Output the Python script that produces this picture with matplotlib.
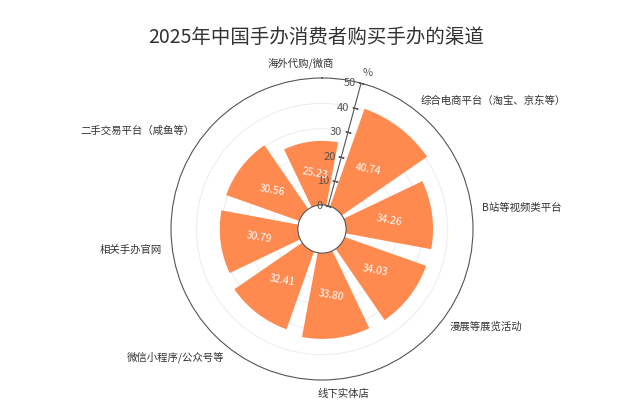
import numpy as np
import matplotlib
matplotlib.use('Agg')
import matplotlib.pyplot as plt

plt.rcParams['font.family'] = ['Noto Sans CJK SC', 'DejaVu Sans']

# 数据
title = '2025年中国手办消费者购买手办的渠道'
channels = ['综合电商平台（淘宝、京东等）', 'B站等视频类平台', '漫展等展览活动', '线下实体店',
            '微信小程序/公众号等', '相关手办官网', '二手交易平台（咸鱼等）', '海外代购/微商']
shares = [40.74, 34.26, 34.03, 33.80, 32.41, 30.79, 30.56, 25.23]
r_ticks = [0, 10, 20, 30, 40, 50]
unit = '%'

start_deg = 15
step = 360 / len(channels)
idx = np.arange(len(channels))
centers = np.deg2rad(start_deg + step * (idx + 0.5))
edges = np.deg2rad(start_deg + step * idx)

fig = plt.figure(figsize=(6.44, 4.0), dpi=100)
ax = fig.add_axes([0.2655, 0.05, 0.469, 0.755], projection='polar')
ax.set_theta_zero_location('N')
ax.set_theta_direction(-1)
ax.set_ylim(0, 50)
ax.set_rorigin(-9.5)

ax.bar(centers, shares, width=np.deg2rad(step) * 0.8, color='#FF8A50', zorder=2)

# 网格与轴线
ax.set_xticks(edges)
ax.set_xticklabels([])
ax.set_yticks(r_ticks[1:-1])
ax.set_yticklabels([])
ax.xaxis.grid(False)
ax.yaxis.grid(True, color='#eeeeee', lw=0.8)
ax.tick_params(axis='x', direction='in', length=3, color='#555555', width=0.8)
ax.spines['polar'].set_color('#555555')
ax.spines['polar'].set_linewidth(0.8)
ax.spines['inner'].set_color('#555555')
ax.spines['inner'].set_linewidth(0.8)

ax.plot([edges[0], edges[0]], [r_ticks[0], r_ticks[-1]], color='#555555', lw=0.8, zorder=3)
ax.plot([edges[0]] * len(r_ticks), r_ticks, ls='none', marker=(2, 2, 75),
        ms=4, mew=0.8, color='#555555', zorder=3, clip_on=False)
for r in r_ticks:
    ax.annotate(str(r), xy=(edges[0], r), xytext=(-4, 0), textcoords='offset points',
                ha='right', va='center', fontsize=8, color='#555555')
ax.annotate(unit, xy=(edges[0], r_ticks[-1]), xytext=(5, 7), textcoords='offset points',
            ha='center', va='center', fontsize=8, color='#555555')

# 类别标签
for c, name in zip(centers, channels):
    s, co = np.sin(c), np.cos(c)
    if s > 0.3:
        ha = 'left'
    elif s < -0.3:
        ha = 'right'
    else:
        ha = 'center'
    if co > 0.9:
        va = 'bottom'
    elif co < -0.9:
        va = 'top'
    else:
        va = 'center'
    ax.text(c, 54, name, ha=ha, va=va, fontsize=7.5, color='#333333')

# 数值标签
for c, v in zip(centers, shares):
    ax.text(c, v / 2, f'{v:.2f}', ha='center', va='center', rotation=-10,
            fontsize=7.5, color='white', zorder=4)

fig.text(0.491, 0.9075, title, ha='center', va='center', fontsize=14, color='#333333')

fig.savefig('out.png', dpi=100)
